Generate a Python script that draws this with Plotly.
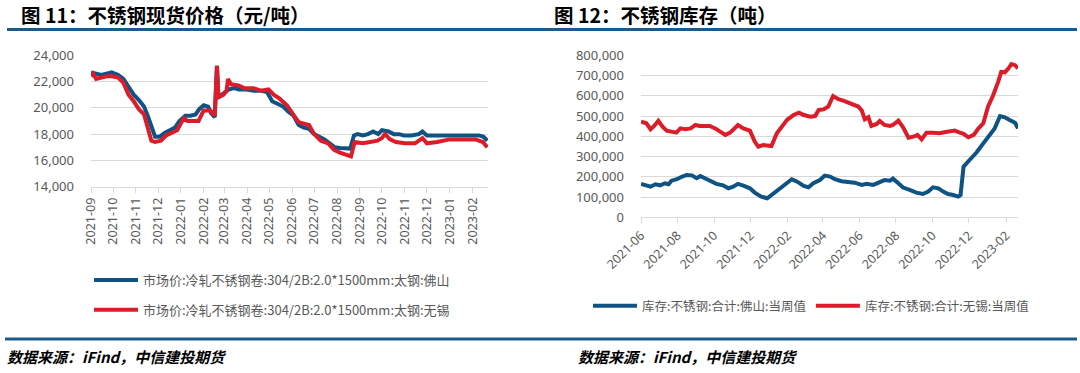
import plotly.graph_objects as go

# ---------------- data: left chart (price, 元/吨) ----------------
price_dates_fs = ["2021-09-01","2021-09-08","2021-09-15","2021-09-22","2021-09-29","2021-10-08","2021-10-15","2021-10-22","2021-10-29","2021-11-05","2021-11-12","2021-11-17","2021-11-22","2021-11-27","2021-12-03","2021-12-10","2021-12-17","2021-12-24","2021-12-30","2022-01-07","2022-01-14","2022-01-21","2022-01-26","2022-02-01","2022-02-07","2022-02-11","2022-02-16","2022-02-19","2022-02-21","2022-02-28","2022-03-07","2022-03-14","2022-03-21","2022-03-31","2022-04-10","2022-04-20","2022-04-28","2022-05-05","2022-05-12","2022-05-20","2022-05-27","2022-06-03","2022-06-10","2022-06-17","2022-06-24","2022-07-01","2022-07-08","2022-07-15","2022-07-22","2022-07-29","2022-08-05","2022-08-12","2022-08-19","2022-08-24","2022-08-29","2022-09-05","2022-09-12","2022-09-19","2022-09-26","2022-10-01","2022-10-10","2022-10-17","2022-10-24","2022-10-31","2022-11-10","2022-11-20","2022-11-25","2022-12-01","2022-12-15","2023-01-01","2023-01-15","2023-02-01","2023-02-10","2023-02-16","2023-02-21"]
price_fs = [22700,22600,22500,22600,22700,22500,22200,21600,21000,20600,20100,19400,18600,17800,17800,18100,18300,18500,19000,19400,19400,19500,19900,20200,20100,19600,19300,23200,20800,21100,21400,21500,21400,21400,21300,21300,21200,20500,20300,20100,19700,19400,18700,18500,18400,18000,17800,17600,17300,17000,16950,16950,16900,17900,18000,17900,18000,18200,18000,18300,18200,18000,18000,17900,17900,18000,18200,17900,17900,17900,17900,17900,17900,17800,17500]

price_dates_wx = ["2021-09-01","2021-09-04","2021-09-08","2021-09-15","2021-09-22","2021-09-29","2021-10-08","2021-10-15","2021-10-22","2021-10-29","2021-11-05","2021-11-12","2021-11-17","2021-11-22","2021-11-27","2021-12-05","2021-12-12","2021-12-20","2021-12-27","2022-01-01","2022-01-05","2022-01-10","2022-01-25","2022-02-01","2022-02-10","2022-02-16","2022-02-19","2022-02-21","2022-02-28","2022-03-04","2022-03-06","2022-03-10","2022-03-20","2022-03-28","2022-04-10","2022-04-20","2022-04-30","2022-05-07","2022-05-15","2022-05-25","2022-06-03","2022-06-10","2022-06-17","2022-06-24","2022-07-01","2022-07-10","2022-07-20","2022-07-28","2022-08-05","2022-08-15","2022-08-20","2022-08-25","2022-09-05","2022-09-15","2022-09-25","2022-10-01","2022-10-05","2022-10-12","2022-10-20","2022-11-01","2022-11-15","2022-11-25","2022-12-01","2022-12-15","2023-01-01","2023-01-20","2023-02-05","2023-02-15","2023-02-21"]
price_wx = [22400,22600,22200,22300,22400,22400,22300,21900,21000,20500,19900,19500,18600,17500,17400,17500,17900,18100,18300,18800,19200,19000,19000,19800,19800,19400,23200,20800,21000,21300,22200,21800,21700,21500,21500,21300,21400,21000,20700,20200,19400,18900,18800,18700,18000,17500,17300,16800,16600,16400,16300,17400,17300,17400,17500,17700,18000,17600,17400,17300,17300,17700,17300,17400,17600,17600,17600,17400,17000]

# ---------------- data: right chart (inventory, 吨) ----------------
stock_dates_fs = ["2021-06-01","2021-06-17","2021-06-25","2021-07-03","2021-07-11","2021-07-17","2021-07-22","2021-07-31","2021-08-08","2021-08-16","2021-08-25","2021-09-02","2021-09-08","2021-09-16","2021-09-24","2021-10-05","2021-10-16","2021-10-25","2021-11-02","2021-11-10","2021-11-19","2021-11-30","2021-12-08","2021-12-19","2021-12-29","2022-01-08","2022-01-19","2022-01-31","2022-02-08","2022-02-17","2022-02-28","2022-03-08","2022-03-16","2022-03-27","2022-04-04","2022-04-13","2022-04-21","2022-05-02","2022-05-13","2022-05-24","2022-06-05","2022-06-13","2022-06-24","2022-07-05","2022-07-13","2022-07-22","2022-07-27","2022-08-05","2022-08-13","2022-08-24","2022-09-04","2022-09-15","2022-09-24","2022-10-02","2022-10-11","2022-10-19","2022-10-27","2022-11-05","2022-11-13","2022-11-17","2022-11-22","2022-12-02","2022-12-14","2022-12-25","2023-01-05","2023-01-13","2023-01-22","2023-01-30","2023-02-07","2023-02-16","2023-02-21"]
stock_fs = [165000,151000,163000,158000,168000,163000,181000,188000,200000,209000,207000,193000,204000,193000,184000,165000,158000,143000,151000,165000,156000,143000,122000,102000,94000,118000,143000,168000,188000,176000,155000,148000,168000,184000,206000,201000,188000,178000,176000,171000,160000,165000,160000,171000,184000,181000,191000,168000,147000,135000,122000,115000,127000,148000,143000,127000,115000,110000,102000,110000,250000,283000,321000,365000,407000,439000,500000,494000,481000,467000,439000]

stock_dates_wx = ["2021-06-01","2021-06-10","2021-06-17","2021-06-23","2021-06-30","2021-07-07","2021-07-14","2021-07-22","2021-07-30","2021-08-06","2021-08-14","2021-08-23","2021-08-31","2021-09-07","2021-09-16","2021-09-24","2021-10-03","2021-10-11","2021-10-20","2021-10-28","2021-11-05","2021-11-10","2021-11-19","2021-11-30","2021-12-08","2021-12-14","2021-12-22","2022-01-05","2022-01-14","2022-01-22","2022-01-31","2022-02-11","2022-02-20","2022-02-28","2022-03-11","2022-03-19","2022-03-25","2022-04-02","2022-04-10","2022-04-18","2022-04-27","2022-05-05","2022-05-13","2022-05-22","2022-05-30","2022-06-05","2022-06-10","2022-06-16","2022-06-21","2022-06-30","2022-07-05","2022-07-13","2022-07-22","2022-07-27","2022-08-05","2022-08-13","2022-08-22","2022-08-30","2022-09-06","2022-09-13","2022-09-21","2022-10-02","2022-10-13","2022-10-21","2022-10-30","2022-11-07","2022-11-16","2022-11-22","2022-11-30","2022-12-09","2022-12-17","2022-12-25","2023-01-02","2023-01-10","2023-01-19","2023-01-24","2023-01-30","2023-02-04","2023-02-10","2023-02-16","2023-02-21"]
stock_wx = [472000,464000,435000,451000,477000,448000,428000,421000,418000,439000,435000,439000,456000,451000,451000,451000,439000,423000,407000,418000,444000,456000,439000,428000,374000,349000,357000,352000,415000,448000,481000,505000,517000,505000,497000,500000,530000,533000,547000,599000,583000,576000,568000,555000,547000,527000,484000,494000,451000,461000,476000,456000,451000,456000,477000,444000,393000,398000,407000,385000,418000,418000,415000,420000,423000,428000,418000,412000,395000,407000,439000,464000,547000,599000,670000,718000,716000,731000,757000,751000,736000]

titles = ["图 11：不锈钢现货价格（元/吨）", "图 12：不锈钢库存（吨）"]
source_text = "数据来源：iFind，中信建投期货"
names_price = ["市场价:冷轧不锈钢卷:304/2B:2.0*1500mm:太钢:佛山", "市场价:冷轧不锈钢卷:304/2B:2.0*1500mm:太钢:无锡"]
names_stock = ["库存:不锈钢:合计:佛山:当周值", "库存:不锈钢:合计:无锡:当周值"]

BLUE = "#0f5384"
RED = "#dc1c28"
GRID = "#d9d9d9"
TICK = "#595959"
BAR = "#1d5a8c"
FONT = "Noto Sans, Noto Sans CJK SC, sans-serif"
CJK = "Noto Sans CJK SC, sans-serif"

W, H = 1080, 373
def px_x(p): return p / W
def px_y(p): return 1 - p / H

fig = go.Figure()
fig.add_trace(go.Scatter(x=price_dates_fs, y=price_fs, name=names_price[0], mode="lines",
                         line=dict(color=BLUE, width=4), xaxis="x", yaxis="y", legend="legend", legendgroup="a"))
fig.add_trace(go.Scatter(x=price_dates_wx, y=price_wx, name=names_price[1], mode="lines",
                         line=dict(color=RED, width=4), xaxis="x", yaxis="y", legend="legend", legendgroup="b"))
fig.add_trace(go.Scatter(x=stock_dates_fs, y=stock_fs, name=names_stock[0], mode="lines",
                         line=dict(color=BLUE, width=4), xaxis="x2", yaxis="y2", legend="legend2"))
fig.add_trace(go.Scatter(x=stock_dates_wx, y=stock_wx, name=names_stock[1], mode="lines",
                         line=dict(color=RED, width=4), xaxis="x2", yaxis="y2", legend="legend2"))

xcommon = dict(type="date", tickformat="%Y-%m", showgrid=False, showline=True, linecolor=GRID, linewidth=1,
               ticks="outside", ticklen=5, tickcolor=GRID, automargin=False,
               tickfont=dict(family=FONT, size=12.5, color=TICK))
ycommon = dict(showgrid=True, gridcolor=GRID, gridwidth=1, zeroline=False, showline=False, ticks="",
               automargin=False, tickformat=",d", tickfont=dict(family=FONT, size=13, color=TICK),
               ticklabelstandoff=16)

fig.update_layout(
    width=W, height=H, margin=dict(l=0, r=0, t=0, b=0, autoexpand=False),
    paper_bgcolor="white", plot_bgcolor="white", showlegend=True,
    xaxis=dict(**xcommon, domain=[px_x(91), px_x(488)], range=["2021-09-01", "2023-02-22"],
               dtick="M1", tick0="2021-09-01", tickangle=-90, anchor="y"),
    yaxis=dict(**ycommon, domain=[px_y(186.7), px_y(55.3)], range=[14000, 24000], dtick=2000, anchor="x"),
    xaxis2=dict(**xcommon, domain=[px_x(641), px_x(1018)], range=["2021-06-01", "2023-02-21"],
                dtick="M2", tick0="2021-06-01", tickangle=-45, anchor="y2"),
    yaxis2=dict(**ycommon, domain=[px_y(217.3), px_y(55.3)], range=[0, 800000], dtick=100000, anchor="x2"),
    legend=dict(x=px_x(89), y=px_y(265), xanchor="left", yanchor="top", orientation="v",
                font=dict(family=CJK, size=13, color=TICK), bgcolor="rgba(0,0,0,0)",
                tracegroupgap=10, itemwidth=44),
    legend2=dict(x=px_x(588), y=px_y(291), xanchor="left", yanchor="top", orientation="h",
                 font=dict(family=CJK, size=12.5, color=TICK), bgcolor="rgba(0,0,0,0)", itemwidth=44),
)

# header and footer rules
fig.add_shape(type="line", xref="paper", yref="paper", x0=px_x(7), x1=px_x(1077), y0=px_y(29.5), y1=px_y(29.5),
              line=dict(color=BAR, width=3))
fig.add_shape(type="line", xref="paper", yref="paper", x0=px_x(5), x1=px_x(1077), y0=px_y(339), y1=px_y(339),
              line=dict(color=BAR, width=3))

for xp, t in zip([19, 552], titles):
    fig.add_annotation(x=px_x(xp), y=px_y(14), xref="paper", yref="paper", xanchor="left", yanchor="middle",
                       text="<b>" + t + "</b>", showarrow=False,
                       font=dict(family=CJK, size=19.5, color="#000000"))
for xp in [5, 576]:
    fig.add_annotation(x=px_x(xp), y=px_y(356), xref="paper", yref="paper", xanchor="left", yanchor="middle",
                       text="<b><i>" + source_text + "</i></b>", showarrow=False,
                       font=dict(family=CJK, size=15, color="#000000"))

# remove the default 8px page margin so the figure fills the window exactly
fig.write_html("out.html", config={"displayModeBar": False},
               post_script="document.body.style.margin='0';document.body.style.overflow='hidden';")
